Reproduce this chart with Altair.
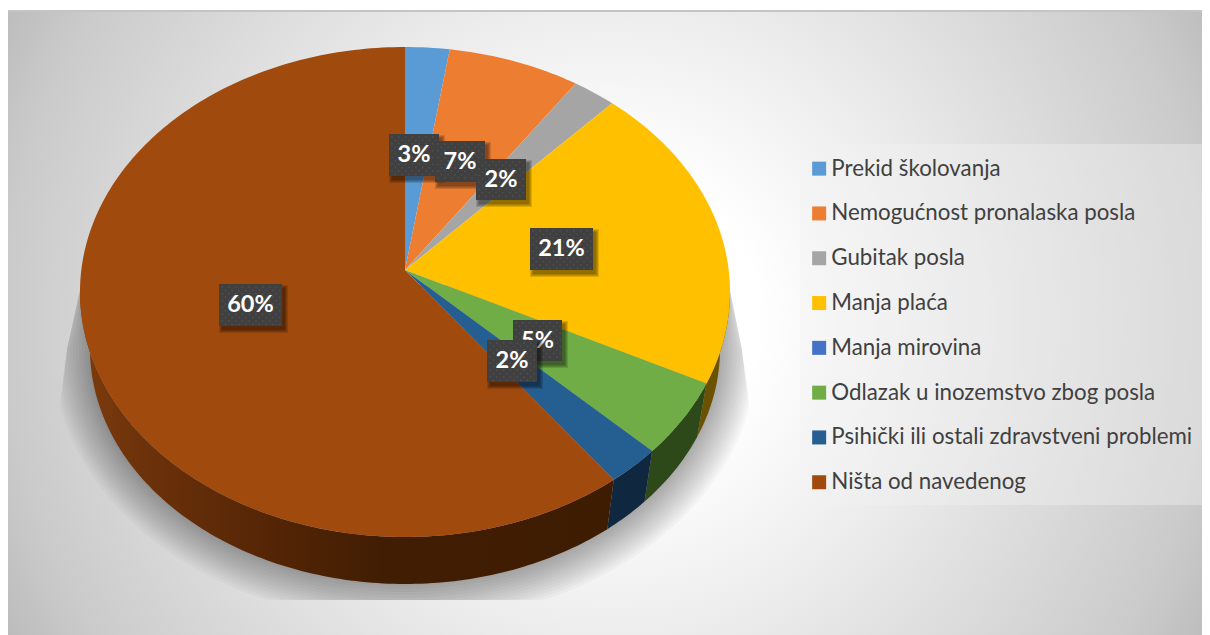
import numpy as np
import altair as alt

# ---- data ----
categories = ["Prekid školovanja", "Nemogućnost pronalaska posla", "Gubitak posla", "Manja plaća",
              "Manja mirovina", "Odlazak u inozemstvo zbog posla",
              "Psihički ili ostali zdravstveni problemi", "Ništa od navedenog"]
shares = [2.2, 6.6, 2.2, 20.1, 0.0, 5.15, 2.65, 61.1]
colors = ["#5B9BD5", "#ED7D31", "#A5A5A5", "#FFC000", "#4472C4", "#70AD47", "#255E91", "#A14A0E"]
side_colors = ["#2f4d6b", "#77401a", "#555555", "#6B5200", "#223a62", "#2D4819", "#0F2840", "#3E1C02"]

label_texts = ["3%", "7%", "2%", "21%", "5%", "2%", "60%"]
label_left = [389, 435, 476, 530, 513, 487, 219]
label_right = [439, 485, 526, 593, 562, 537, 282]
label_top = [134, 141, 159, 228, 320, 340, 284]
label_bottom = [176, 182, 200, 270, 361, 382, 326]

# ---- layout ----
W, H = 1194, 627
OX, OY = 8, 8
APEX = (405, 270)
TOP = dict(cx=405, cy=292, rx=325, ry=245)
BOT = dict(cx=405, cy=349, rx=315, ry=235)


def pt(e, deg):
    t = np.radians(deg)
    return e["cx"] + e["rx"] * np.sin(t), e["cy"] - e["ry"] * np.cos(t)


def arc(e, a, b, step=1.0):
    n = max(2, int(abs(b - a) / step) + 2)
    xs, ys = pt(e, np.linspace(a, b, n))
    return list(zip(xs.tolist(), ys.tolist()))


def feature(ring, **props):
    ring = [list(p) for p in ring]
    ring.append(ring[0])
    return {"type": "Feature", "properties": props, "geometry": {"type": "Polygon", "coordinates": [ring]}}


cum = np.cumsum([0] + shares) / sum(shares) * 360
top_feats, side_feats, brown_side = [], [], []
for i, cat in enumerate(categories):
    a, b = float(cum[i]), float(cum[i + 1])
    top_feats.append(feature([APEX] + arc(TOP, a, b), cat=cat))
    sa, sb = max(a, 90.0), min(b, 270.0)
    if sb > sa:
        ring = arc(TOP, sa, sb) + arc(BOT, sb, sa)
        f = feature(ring, c=side_colors[i])
        (brown_side if i == len(categories) - 1 else side_feats).append(f)


def left_limit(y):
    return 75 + (58 - 75) * (y - 287) / 133


def right_limit(y):
    return 738 + (753 - 738) * (y - 320) / 113


shadow_feats = []
for d in np.arange(38, 0, -3.0):
    e = dict(cx=BOT["cx"], cy=BOT["cy"], rx=BOT["rx"] + d, ry=BOT["ry"] + d)
    clipped = [(81.0, 285.0)]
    for x, y in arc(e, 270, 90, 2):
        y2 = min(y, 600.0)
        clipped.append((min(max(x, left_limit(y2)), right_limit(y2)), y2))
    clipped.append((729.0, 285.0))
    shadow_feats.append(feature(clipped, d=float(d)))

X = alt.Scale(domain=[OX, OX + W], range=[0, W])
Y = alt.Scale(domain=[OY, OY + H], range=[0, H])
PROJ = dict(type="identity", scale=1, translate=[-OX, -OY])


def geo(feats):
    return alt.Data(values=feats)


def xy(xf, x2f, yf, y2f):
    return dict(x=alt.X(xf, scale=X, axis=None), x2=alt.X2(x2f), y=alt.Y(yf, scale=Y, axis=None), y2=alt.Y2(y2f))


bg = alt.Chart(alt.Data(values=[{"a": 1}])).mark_rect(
    clip=True,
    fill=alt.RadialGradient(gradient="radial", x1=0.5, y1=0.5, r1=0, x2=0.5, y2=0.5, r2=0.5,
                            stops=[alt.GradientStop(offset=0, color="#ffffff"),
                                   alt.GradientStop(offset=0.21, color="#ffffff"),
                                   alt.GradientStop(offset=0.46, color="#ececec"),
                                   alt.GradientStop(offset=0.86, color="#cbcbcb"),
                                   alt.GradientStop(offset=1, color="#b8b8b8")]),
).encode(x=alt.value(-98), x2=alt.value(1302), y=alt.value(-388), y2=alt.value(1012))

top_strip = alt.Chart(alt.Data(values=[{"a": 1}])).mark_rect(fill="white").encode(
    x=alt.value(-2), x2=alt.value(W + 2), y=alt.value(-2), y2=alt.value(2))
top_line = alt.Chart(alt.Data(values=[{"a": 1}])).mark_rect(fill="#c4c4c4").encode(
    x=alt.value(0), x2=alt.value(W), y=alt.value(2), y2=alt.value(4))

shadow = alt.Chart(geo(shadow_feats)).mark_geoshape(fill="black", opacity=0.026, strokeWidth=0).project(**PROJ)

side = alt.Chart(geo(side_feats)).mark_geoshape(strokeWidth=0).encode(
    fill=alt.Fill("properties.c:N", scale=None)).project(**PROJ)
brown = alt.Chart(geo(brown_side)).mark_geoshape(
    strokeWidth=0,
    fill=alt.LinearGradient(gradient="linear", x1=0, y1=0, x2=1, y2=0,
                            stops=[alt.GradientStop(offset=0.02, color="#7a3a0c"),
                                   alt.GradientStop(offset=0.13, color="#6b310a"),
                                   alt.GradientStop(offset=0.38, color="#522405"),
                                   alt.GradientStop(offset=0.58, color="#401d03"),
                                   alt.GradientStop(offset=1, color="#3e1c02")])).project(**PROJ)

legend_box = alt.Chart(alt.Data(values=[{"a": 1}])).mark_rect(fill="#f2f2f2", opacity=0.39).encode(
    x=alt.value(800 - OX), x2=alt.value(W), y=alt.value(144 - OY), y2=alt.value(505 - OY))

top = alt.Chart(geo(top_feats)).mark_geoshape(strokeWidth=0).encode(
    color=alt.Color("properties.cat:N",
                    scale=alt.Scale(domain=categories, range=colors),
                    legend=alt.Legend(title=None, orient="none", legendX=800, legendY=149.5, padding=0,
                                      symbolType="square", symbolSize=196, symbolStrokeWidth=0,
                                      labelFont="Lato", labelFontSize=22.3, labelColor="#404040",
                                      labelLimit=500, labelOffset=1, rowPadding=21.8,
                                      values=categories))
).project(**PROJ)

layers = [bg, top_strip, top_line, shadow, side, brown, top, legend_box]

for i, txt in enumerate(label_texts):
    l, r, t, b = label_left[i], label_right[i], label_top[i], label_bottom[i]
    shade_rows = [{"x": l + 3 - g, "x2": r + 3 + g, "y": t + 4 - g, "y2": b + 4 + g} for g in (3, 2, 1, 0)]
    shade = alt.Chart(alt.Data(values=shade_rows)).mark_rect(color="black", opacity=0.13).encode(
        **xy("x:Q", "x2:Q", "y:Q", "y2:Q"))
    box = alt.Chart(alt.Data(values=[{"x": l, "x2": r, "y": t, "y2": b}])).mark_rect(color="#404040").encode(
        **xy("x:Q", "x2:Q", "y:Q", "y2:Q"))
    dots = []
    for j, yy in enumerate(np.arange(t + 3, b - 1, 3.4)):
        for xx in np.arange(l + 3 + (j % 2) * 3.4, r - 1, 6.8):
            dots.append({"x": float(xx), "y": float(yy)})
    dot = alt.Chart(alt.Data(values=dots)).mark_square(size=2, color="#5a5a5a", opacity=0.7).encode(
        x=alt.X("x:Q", scale=X, axis=None), y=alt.Y("y:Q", scale=Y, axis=None))
    text = alt.Chart(alt.Data(values=[{"x": (l + r) / 2, "y": (t + b) / 2, "t": txt}])).mark_text(
        font="Lato", fontSize=23.5, fontWeight="bold", color="white", baseline="middle", align="center"
    ).encode(x=alt.X("x:Q", scale=X, axis=None), y=alt.Y("y:Q", scale=Y, axis=None), text="t:N")
    layers += [shade, box, dot, text]

chart = alt.layer(*layers).properties(
    width=W, height=H, padding=0, autosize=alt.AutoSizeParams(type="none"), background="white",
).configure_view(stroke=None)

chart.save("out.html", embed_options={"renderer": "svg", "actions": False})
